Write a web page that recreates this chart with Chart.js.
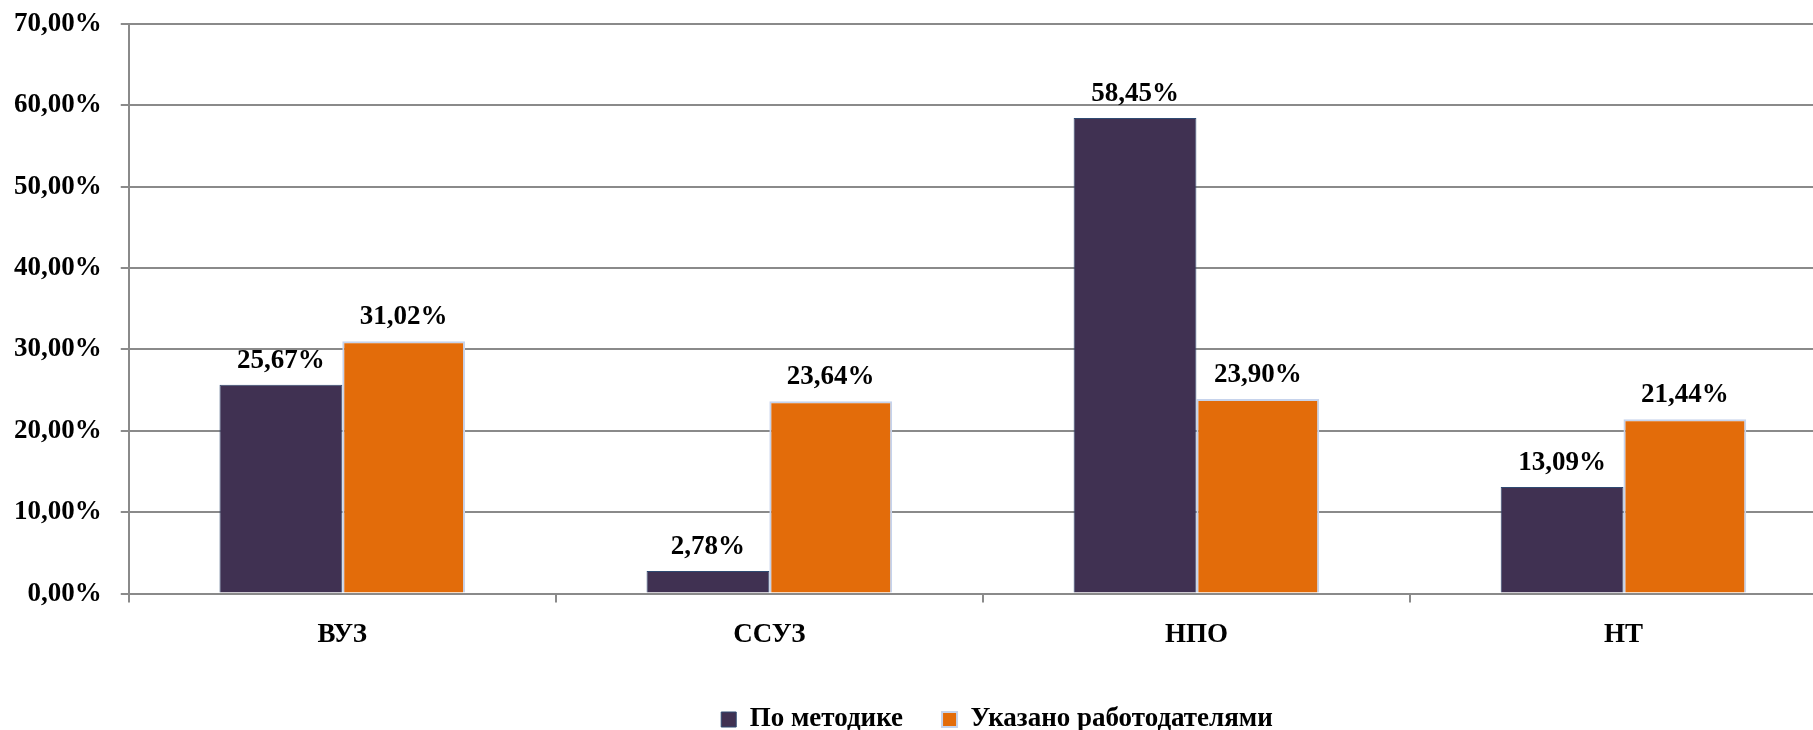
<!DOCTYPE html>
<html>
<head>
<meta charset="utf-8">
<script src="https://cdn.jsdelivr.net/npm/chart.js@4"></script>
<style>
  html, body { margin: 0; padding: 0; background: #fff; overflow: hidden; }
  #wrap { width: 1842px; height: 730px; margin-left: -5px; }
</style>
</head>
<body>
<div id="wrap"><canvas id="chartCanvas"></canvas></div>
<script>
const categories = ['ВУЗ', 'ССУЗ', 'НПО', 'НТ'];
const poMetodike = [25.67, 2.78, 58.45, 13.09];
const ukazanoRabotodatelyami = [31.02, 23.64, 23.90, 21.44];
const yMin = 0;
const yMax = 70;
const yStep = 10;

const fmt = v => v.toFixed(2).replace('.', ',') + '%';
const serif = '"Liberation Serif", "Times New Roman", serif';
const gridColor = '#8a8a8a';
const legendShift = 81;

// value labels above each bar
const valueLabels = {
    id: 'valueLabels',
    afterDatasetsDraw(chart) {
        const ctx = chart.ctx;
        ctx.save();
        ctx.font = 'bold 27px ' + serif;
        ctx.fillStyle = '#000';
        ctx.textAlign = 'center';
        ctx.textBaseline = 'alphabetic';
        chart.data.datasets.forEach((ds, i) => {
            chart.getDatasetMeta(i).data.forEach((bar, j) => {
                ctx.fillText(fmt(ds.data[j]), bar.x, bar.y - 17);
            });
        });
        ctx.restore();
    }
};

// the original legend sits off-centre, a bit to the right
const legendOffset = {
    id: 'legendOffset',
    afterLayout(chart) {
        chart.legend.left += legendShift;
        chart.legend.right += legendShift;
    }
};

const noScalePadding = scale => {
    scale.paddingTop = 0;
    scale.paddingBottom = 0;
    scale.paddingLeft = 0;
    scale.paddingRight = 0;
};

const ctx = document.getElementById('chartCanvas').getContext('2d');
new Chart(ctx, {
    type: 'bar',
    data: {
        labels: categories,
        datasets: [
            {
                label: 'По методике',
                data: poMetodike,
                backgroundColor: '#403152',
                borderColor: '#2f4a72',
                borderWidth: 1,
            },
            {
                label: 'Указано работодателями',
                data: ukazanoRabotodatelyami,
                backgroundColor: '#e36c0a',
                borderColor: '#c6d3ec',
                borderWidth: 2,
            },
        ],
    },
    options: {
        responsive: true,
        maintainAspectRatio: false,
        animation: false,
        layout: {
            padding: { top: 24, right: 0, bottom: -13, left: 0 },
        },
        datasets: {
            bar: { categoryPercentage: 0.575, barPercentage: 1.0 },
        },
        plugins: {
            tooltip: { enabled: false },
            legend: {
                position: 'bottom',
                labels: {
                    font: { family: serif, size: 27, weight: 'bold' },
                    color: '#000',
                    boxWidth: 15,
                    boxHeight: 15,
                    padding: 39,
                },
            },
        },
        scales: {
            x: {
                afterFit: noScalePadding,
                grid: {
                    drawOnChartArea: false,
                    drawTicks: true,
                    tickLength: 9,
                    color: gridColor,
                    lineWidth: 2,
                },
                border: { color: gridColor, width: 2 },
                ticks: {
                    font: { family: serif, size: 27, weight: 'bold' },
                    color: '#000',
                    padding: 16,
                },
            },
            y: {
                min: yMin,
                max: yMax,
                afterFit: noScalePadding,
                grid: {
                    color: gridColor,
                    lineWidth: 2,
                    tickLength: 8,
                },
                border: { color: gridColor, width: 2 },
                ticks: {
                    stepSize: yStep,
                    font: { family: serif, size: 27, weight: 'bold' },
                    color: '#000',
                    padding: 19,
                    callback: v => fmt(v),
                },
            },
        },
    },
    plugins: [valueLabels, legendOffset],
});
</script>
</body>
</html>
